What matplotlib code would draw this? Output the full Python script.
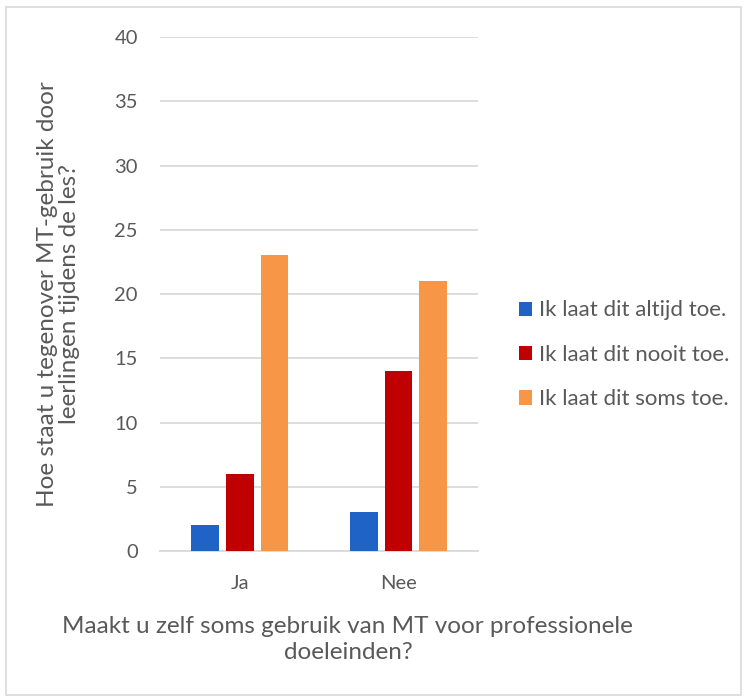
import numpy as np
import matplotlib.pyplot as plt
from matplotlib.patches import Rectangle

plt.rcParams['font.family'] = ['Lato', 'DejaVu Sans']

categories = ['Ja', 'Nee']
series = ['Ik laat dit altijd toe.', 'Ik laat dit nooit toe.', 'Ik laat dit soms toe.']
altijd = [2, 3]
nooit = [6, 14]
soms = [23, 21]
colors = ['#1F63C6', '#C00000', '#F79646']

text_col = '#595959'
grid_col = '#D9D9D9'

fig = plt.figure(figsize=(7.45, 7.0), dpi=100)
fig.patches.append(Rectangle((0.008, 0.007), 0.986, 0.983, transform=fig.transFigure,
                             fill=False, edgecolor='#D9D9D9', lw=1.2))

ax = fig.add_axes([0.2148, 0.2129, 0.4268, 0.7341])

x = np.arange(len(categories))
w = 0.176
gap = 0.044
for i, (vals, name, c) in enumerate(zip([altijd, nooit, soms], series, colors)):
    ax.bar(x + (i - 1) * (w + gap), vals, width=w, color=c, label=name, zorder=3)

ax.set_xlim(-0.5, 1.5)
ax.set_ylim(0, 40)
ax.set_yticks(range(0, 41, 5))
ax.set_xticks(x)
ax.set_xticklabels(categories)
ax.grid(axis='y', color=grid_col, lw=1.3, zorder=0)
for s in ['top', 'right', 'left']:
    ax.spines[s].set_visible(False)
ax.spines['bottom'].set_color(grid_col)
ax.spines['bottom'].set_linewidth(1.3)
ax.tick_params(length=0, labelsize=14.5, colors=text_col)
ax.tick_params(axis='y', pad=16)
ax.tick_params(axis='x', pad=17)

# axis titles
fig.text(58.5 / 745, 0.58, 'Hoe staat u tegenover MT-gebruik door\nleerlingen tijdens de les?',
         rotation=90, ha='center', va='center', fontsize=17.5, color=text_col,
         linespacing=1.1)
fig.text(0.467, 0.087, 'Maakt u zelf soms gebruik van MT voor professionele\ndoeleinden?',
         ha='center', va='center', fontsize=17.5, color=text_col, linespacing=1.3)

ax.legend(loc='center left', bbox_to_anchor=(519 / 745, 0.493), bbox_transform=fig.transFigure,
          borderaxespad=0, borderpad=0, frameon=False,
          fontsize=16, labelcolor=text_col, handlelength=0.6, handleheight=0.6,
          handletextpad=0.3, labelspacing=1.1)

plt.savefig('out.png', dpi=100)
